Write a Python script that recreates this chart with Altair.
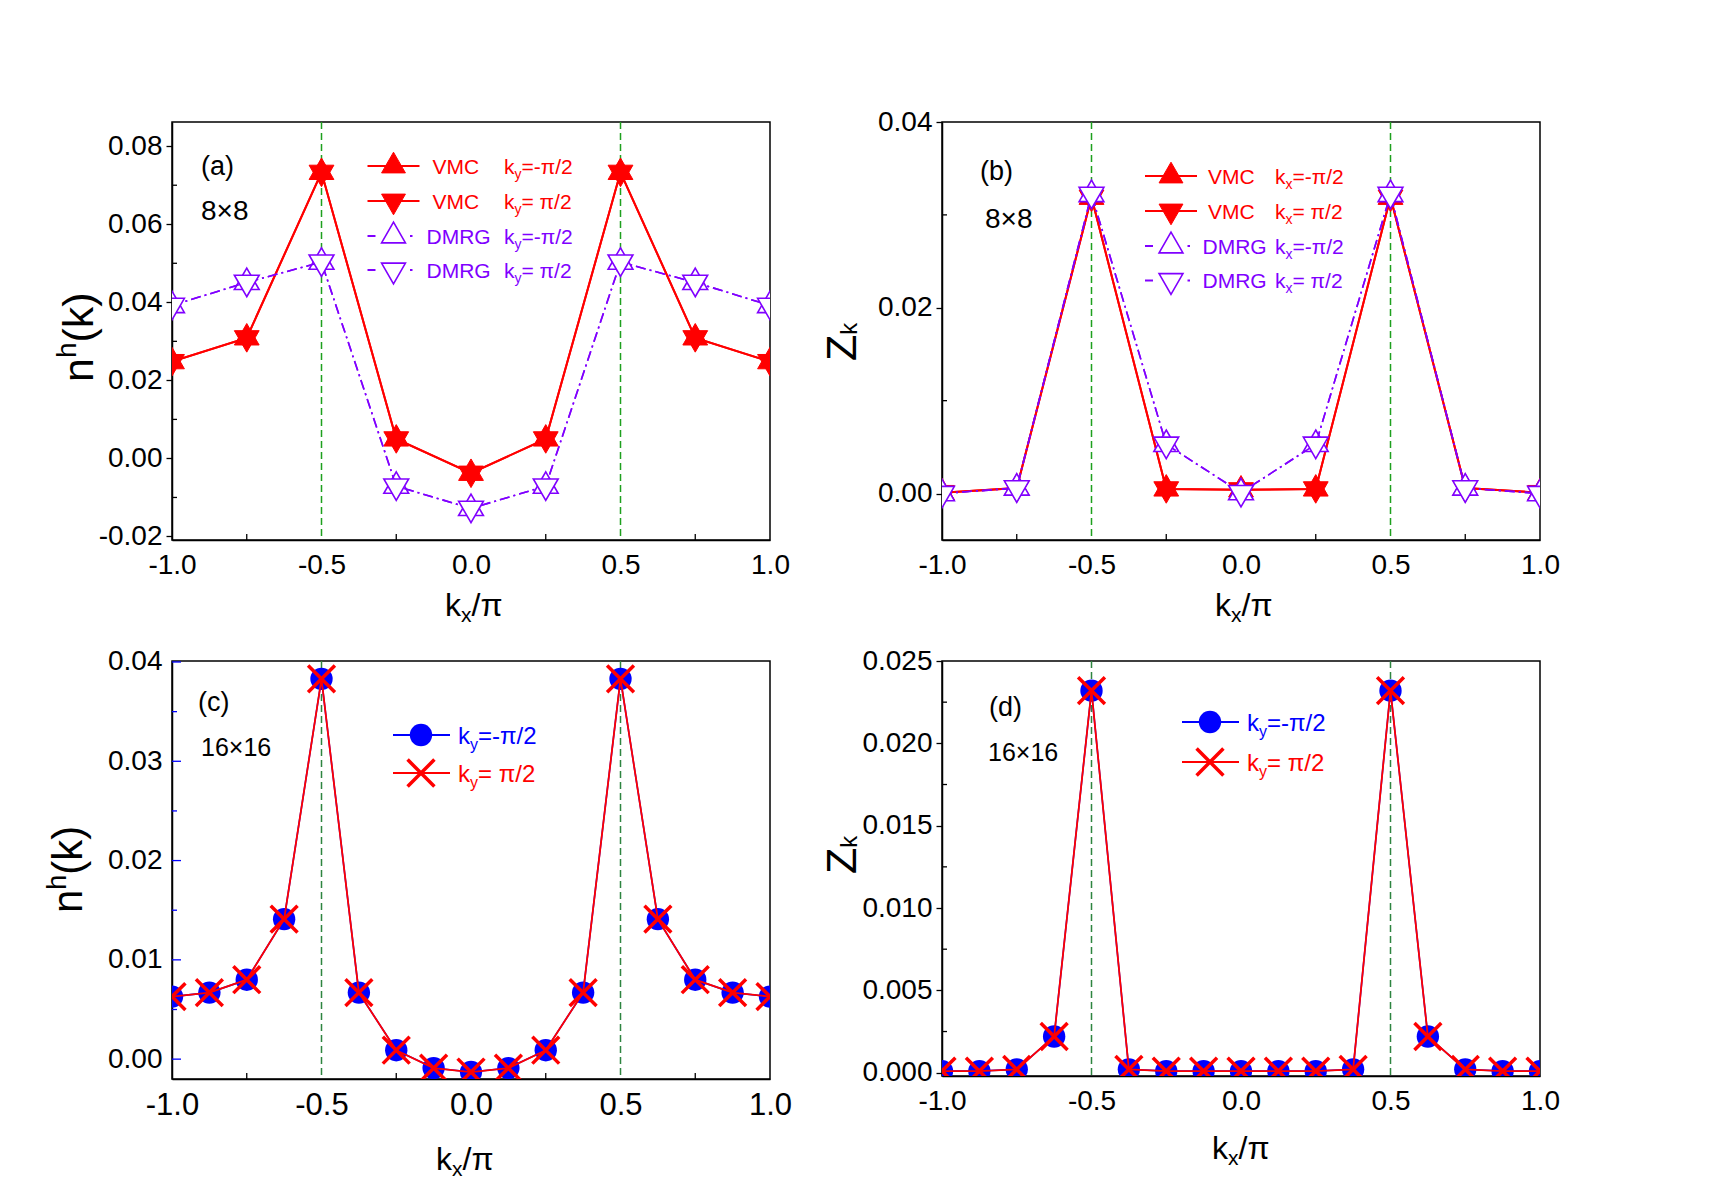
import altair as alt
import pandas as pd

FONT = "Liberation Sans, Arial, Helvetica, sans-serif"
RED = "#ff0000"
VIOLET = "#8000ff"
BLUE = "#0000ff"
BLACK = "#000000"
GREEN_TOP = "#1ea01e"
GREEN_BOT = "#2e8540"

# ---------------- data ----------------
# 8x8 lattice, kx/pi grid
kx8 = [-1.0, -0.75, -0.5, -0.25, 0.0, 0.25, 0.5, 0.75, 1.0]
# hole momentum distribution n^h(k)
nh8_vmc_m = [0.0248, 0.0309, 0.0733, 0.0050, -0.0038, 0.0050, 0.0733, 0.0309, 0.0248]
nh8_vmc_p = [0.0248, 0.0309, 0.0733, 0.0050, -0.0038, 0.0050, 0.0733, 0.0309, 0.0248]
nh8_dmrg_m = [0.0392, 0.0451, 0.0503, -0.0071, -0.0128, -0.0071, 0.0503, 0.0451, 0.0392]
nh8_dmrg_p = [0.0392, 0.0451, 0.0503, -0.0071, -0.0128, -0.0071, 0.0503, 0.0451, 0.0392]
# quasiparticle weight Z_k
zk8_vmc_m = [0.0001, 0.0006, 0.0319, 0.0005, 0.0004, 0.0005, 0.0319, 0.0006, 0.0001]
zk8_vmc_p = [0.0001, 0.0006, 0.0319, 0.0005, 0.0004, 0.0005, 0.0319, 0.0006, 0.0001]
zk8_dmrg_m = [0.0000, 0.0006, 0.0322, 0.0053, 0.0001, 0.0053, 0.0322, 0.0006, 0.0000]
zk8_dmrg_p = [0.0000, 0.0006, 0.0322, 0.0053, 0.0001, 0.0053, 0.0322, 0.0006, 0.0000]

# 16x16 lattice
kx16 = [-1.0, -0.875, -0.75, -0.625, -0.5, -0.375, -0.25, -0.125, 0.0,
        0.125, 0.25, 0.375, 0.5, 0.625, 0.75, 0.875, 1.0]
nh16_m = [0.0063, 0.0067, 0.0080, 0.0141, 0.0383, 0.0067, 0.0009, -0.0009, -0.0013,
          -0.0009, 0.0009, 0.0067, 0.0383, 0.0141, 0.0080, 0.0067, 0.0063]
nh16_p = [0.0063, 0.0067, 0.0080, 0.0141, 0.0383, 0.0067, 0.0009, -0.0009, -0.0013,
          -0.0009, 0.0009, 0.0067, 0.0383, 0.0141, 0.0080, 0.0067, 0.0063]
zk16_m = [0.0001, 0.0001, 0.0002, 0.0022, 0.0232, 0.0002, 0.0001, 0.0001, 0.0001,
          0.0001, 0.0001, 0.0002, 0.0232, 0.0022, 0.0002, 0.0001, 0.0001]
zk16_p = [0.0001, 0.0001, 0.0002, 0.0022, 0.0232, 0.0002, 0.0001, 0.0001, 0.0001,
          0.0001, 0.0001, 0.0002, 0.0232, 0.0022, 0.0002, 0.0001, 0.0001]

# nodal guide positions and axis ticks
guides = [-0.5, 0.5]
x_ticks = [-1.0, -0.5, 0.0, 0.5, 1.0]
x_minor = [-0.75, -0.25, 0.25, 0.75]

# ---------------- helpers ----------------
ADV = {"k": 0.5, "x": 0.5, "y": 0.5, "=": 0.584, "-": 0.333, "π": 0.57, "/": 0.278,
       "2": 0.556, " ": 0.278, "n": 0.556, "h": 0.556, "(": 0.333, ")": 0.333,
       "Z": 0.611}
ONE = pd.DataFrame({"o": [0]})

# triangles centred on their centroid, so an up/down pair forms a six-point star
TRI_UP = "M0,-1L0.866,0.5L-0.866,0.5Z"
TRI_DN = "M0,1L0.866,-0.5L-0.866,-0.5Z"
X_MARK = "M-1,-1L1,1M-1,1L1,-1"


def adv(s, size):
    return sum(ADV.get(c, 0.556) for c in s) * size


def neg_expr(fmt):
    return (f"datum.value < 0 ? '-' + format(-datum.value, '{fmt}') "
            f": format(datum.value, '{fmt}')")


def text_at(t, x, y, size, color=BLACK, angle=0, baseline="alphabetic"):
    return alt.Chart(ONE).mark_text(
        text=t, font=FONT, fontSize=size, color=color, align="left",
        baseline=baseline, angle=angle
    ).encode(x=alt.value(x), y=alt.value(y))


def rich(parts, x, y, color=BLACK, angle=0):
    """Text pieces with sub/superscript shifts; angle 270 runs upward."""
    out = []
    pos = 0.0
    for t, size, shift in parts:
        if angle == 0:
            px, py = x + pos, y + shift
        else:
            px, py = x + shift, y - pos
        out.append(text_at(t, px, py, size, color, angle))
        pos += adv(t, size)
    return out


def seg(x1, x2, y, color, width, dash=None):
    kw = dict(color=color, strokeWidth=width)
    if dash:
        kw["strokeDash"] = dash
    return alt.Chart(ONE).mark_rule(**kw).encode(
        x=alt.value(x1), x2=alt.value(x2), y=alt.value(y))


def sym(x, y, **mk):
    return alt.Chart(ONE).mark_point(opacity=1, **mk).encode(
        x=alt.value(x), y=alt.value(y))


def tri_filled(path, size, c):
    return dict(shape=path, size=size, filled=True, fill=c, stroke=c, strokeWidth=1)


def tri_open(path, size, c):
    return dict(shape=path, size=size, filled=True, fill="white", stroke=c, strokeWidth=1.6)


def dot(size, c):
    return dict(shape="circle", size=size, filled=True, fill=c, stroke=c, strokeWidth=0)


def cross(size, c):
    return dict(shape=X_MARK, size=size, filled=False, stroke=c, strokeWidth=3.5)


def panel(W, H, ydom, yvals, yfmt, xlab_size, ylab_ticks, series, guide_color,
          y_minor, minor_color, minor_len, major_inward, texts):
    xs = alt.Scale(domain=[-1, 1], nice=False, zero=False)
    ys = alt.Scale(domain=ydom, nice=False, zero=False)
    xaxis = alt.Axis(values=x_ticks, labelExpr=neg_expr(".1f"), ticks=False, grid=False,
                     title=None, labelFont=FONT, labelFontSize=xlab_size, labelColor=BLACK,
                     labelPadding=11, domainColor=BLACK, domainWidth=1.5,
                     labelFlush=False, labelOverlap=False)
    yaxis = alt.Axis(values=yvals, labelExpr=neg_expr(yfmt), ticks=ylab_ticks, tickSize=6,
                     tickColor=BLACK, tickWidth=1.3, grid=False, title=None,
                     labelFont=FONT, labelFontSize=28, labelColor=BLACK,
                     labelPadding=4 if ylab_ticks else 10, domainColor=BLACK,
                     domainWidth=1.5, labelFlush=False, labelOverlap=False)
    X = alt.X("x:Q", scale=xs, axis=xaxis)
    Y = alt.Y("y:Q", scale=ys, axis=yaxis)

    layers = []
    # dashed guides at kx = +-pi/2
    layers.append(alt.Chart(pd.DataFrame({"x": guides})).mark_rule(
        color=guide_color, strokeWidth=1.5, strokeDash=[7, 4]).encode(x=X))
    # inward minor ticks
    layers.append(alt.Chart(pd.DataFrame({"x": x_minor})).mark_rule(
        color=BLACK, strokeWidth=1.3).encode(x=X, y=alt.value(H), y2=alt.value(H - 6)))
    layers.append(alt.Chart(pd.DataFrame({"y": y_minor})).mark_rule(
        color=minor_color, strokeWidth=1.3).encode(y=Y, x=alt.value(0), x2=alt.value(minor_len)))
    if major_inward:
        layers.append(alt.Chart(pd.DataFrame({"y": yvals})).mark_rule(
            color=minor_color, strokeWidth=1.3).encode(y=Y, x=alt.value(0), x2=alt.value(9)))
    # data series
    for xv, yv, lcolor, lwidth, dash, markers in series:
        df = pd.DataFrame({"x": xv, "y": yv})
        kw = dict(color=lcolor, strokeWidth=lwidth, clip=True)
        if dash:
            kw["strokeDash"] = dash
        layers.append(alt.Chart(df).mark_line(**kw).encode(x=X, y=Y))
        for mk in markers:
            layers.append(alt.Chart(df).mark_point(clip=True, opacity=1, **mk).encode(x=X, y=Y))
    layers.extend(texts)
    return alt.layer(*layers).properties(width=W, height=H)


W = 598
H_TOP = 418
DASHDOT = [10, 4, 2, 4]
STAR = 820      # symbol area for the 8x8 star markers
LEG_TRI = 760


def xtitle(H, below, shift=0):
    return rich([("k", 32, 0), ("x", 21, 6), ("/π", 32, 0)], W / 2 - 26 + shift, H + below)


def ztitle(y0):
    return rich([("Z", 43, 0), ("k", 24, 1.5)], -86.5, y0, angle=270)


# ---------------- (a) n^h(k), 8x8 ----------------
ya = 21
leg_a = []
rows_a = [44, 79, 114, 148]
leg_a += [seg(195.5, 247.5, rows_a[0], RED, 2), sym(221.5, rows_a[0], **tri_filled(TRI_UP, LEG_TRI, RED))]
leg_a += [seg(195.5, 247.5, rows_a[1], RED, 2), sym(221.5, rows_a[1], **tri_filled(TRI_DN, LEG_TRI, RED))]
leg_a += [seg(195.5, 203.5, rows_a[2], VIOLET, 2), seg(238, 240.5, rows_a[2], VIOLET, 2),
          sym(221.5, rows_a[2], **tri_open(TRI_UP, LEG_TRI, VIOLET))]
leg_a += [seg(195.5, 203.5, rows_a[3], VIOLET, 2), seg(238, 240.5, rows_a[3], VIOLET, 2),
          sym(221.5, rows_a[3], **tri_open(TRI_DN, LEG_TRI, VIOLET))]
for r, lab, col, tx, eq in [(rows_a[0], "VMC", RED, 260.5, "=-π/2"),
                            (rows_a[1], "VMC", RED, 260.5, "= π/2"),
                            (rows_a[2], "DMRG", VIOLET, 254.5, "=-π/2"),
                            (rows_a[3], "DMRG", VIOLET, 254.5, "= π/2")]:
    b = r + 0.358 * ya
    leg_a.append(text_at(lab, tx, b, ya, col))
    leg_a += rich([("k", ya, 0), ("y", 14, 5), (eq, ya, 0)], 332, b, col)

texts_a = [text_at("(a)", 29, 45, 27, baseline="middle"),
           text_at("8×8", 29, 90, 28, baseline="middle")]
texts_a += rich([("n", 43, 0), ("h", 28, -17), ("(k)", 43, 0)], -79, 260, angle=270)
texts_a += xtitle(H_TOP, 76)
texts_a += leg_a
# layout anchor (invisible) fixing the page origin
texts_a.append(alt.Chart(ONE).mark_rule(strokeOpacity=0, strokeWidth=1).encode(
    x=alt.value(-160), x2=alt.value(-150), y=alt.value(-110)))

series_a = [
    (kx8, nh8_vmc_m, RED, 2, None, [tri_filled(TRI_UP, STAR, RED)]),
    (kx8, nh8_vmc_p, RED, 2, None, [tri_filled(TRI_DN, STAR, RED)]),
    (kx8, nh8_dmrg_m, VIOLET, 1.6, DASHDOT, [tri_open(TRI_UP, STAR, VIOLET)]),
    (kx8, nh8_dmrg_p, VIOLET, 1.6, DASHDOT, [tri_open(TRI_DN, STAR, VIOLET)]),
]
pa = panel(W, H_TOP, [-0.0209, 0.0862], [-0.02, 0.0, 0.02, 0.04, 0.06, 0.08], ".2f", 28,
           True, series_a, GREEN_TOP, [-0.01, 0.01, 0.03, 0.05, 0.07], BLACK, 5, False,
           texts_a)

# ---------------- (b) Z_k, 8x8 ----------------
leg_b = []
rows_b = [54, 89, 124, 158.5]
leg_b += [seg(203, 255, rows_b[0], RED, 2), sym(229, rows_b[0], **tri_filled(TRI_UP, LEG_TRI, RED))]
leg_b += [seg(203, 255, rows_b[1], RED, 2), sym(229, rows_b[1], **tri_filled(TRI_DN, LEG_TRI, RED))]
leg_b += [seg(203, 211, rows_b[2], VIOLET, 2), seg(245.5, 248, rows_b[2], VIOLET, 2),
          sym(229, rows_b[2], **tri_open(TRI_UP, LEG_TRI, VIOLET))]
leg_b += [seg(203, 211, rows_b[3], VIOLET, 2), seg(245.5, 248, rows_b[3], VIOLET, 2),
          sym(229, rows_b[3], **tri_open(TRI_DN, LEG_TRI, VIOLET))]
for r, lab, col, tx, eq in [(rows_b[0], "VMC", RED, 266, "=-π/2"),
                            (rows_b[1], "VMC", RED, 266, "= π/2"),
                            (rows_b[2], "DMRG", VIOLET, 260.5, "=-π/2"),
                            (rows_b[3], "DMRG", VIOLET, 260.5, "= π/2")]:
    b = r + 0.358 * ya
    leg_b.append(text_at(lab, tx, b, ya, col))
    leg_b += rich([("k", ya, 0), ("x", 14, 5), (eq, ya, 0)], 333, b, col)

texts_b = [text_at("(b)", 38, 50, 27, baseline="middle"),
           text_at("8×8", 43, 98, 28, baseline="middle")]
texts_b += ztitle(239)
texts_b += xtitle(H_TOP, 76)
texts_b += leg_b

series_b = [
    (kx8, zk8_vmc_m, RED, 2, None, [tri_filled(TRI_UP, STAR, RED)]),
    (kx8, zk8_vmc_p, RED, 2, None, [tri_filled(TRI_DN, STAR, RED)]),
    (kx8, zk8_dmrg_m, VIOLET, 1.6, DASHDOT, [tri_open(TRI_UP, STAR, VIOLET)]),
    (kx8, zk8_dmrg_p, VIOLET, 1.6, DASHDOT, [tri_open(TRI_DN, STAR, VIOLET)]),
]
pb = panel(W, H_TOP, [-0.005, 0.04], [0.0, 0.02, 0.04], ".2f", 28, True, series_b,
           GREEN_TOP, [0.01, 0.03], BLACK, 5, False, texts_b)

# ---------------- (c) n^h(k), 16x16 ----------------
yc = 24
rows_c = [74, 112]
leg_c = [seg(221, 278, rows_c[0], BLUE, 2), sym(249, rows_c[0], **dot(500, BLUE)),
         seg(221, 278, rows_c[1], RED, 2), sym(249, rows_c[1], **cross(720, RED))]
leg_c += rich([("k", yc, 0), ("y", 16, 6), ("=-π/2", yc, 0)], 286, rows_c[0] + 0.358 * yc, BLUE)
leg_c += rich([("k", yc, 0), ("y", 16, 6), ("= π/2", yc, 0)], 286, rows_c[1] + 0.358 * yc, RED)

texts_c = [text_at("(c)", 26, 42, 27, baseline="middle"),
           text_at("16×16", 29, 87, 25, baseline="middle")]
texts_c += rich([("n", 42, 0), ("h", 27, -16), ("(k)", 42, 0)], -90.5, 252, angle=270)
texts_c += xtitle(H_TOP, 91, -9)
texts_c += leg_c

series_c = [
    (kx16, nh16_m, BLUE, 1.6, None, [dot(500, BLUE)]),
    (kx16, nh16_p, RED, 1.8, None, [cross(720, RED)]),
]
pc = panel(W, H_TOP, [-0.002, 0.0401], [0.0, 0.01, 0.02, 0.03, 0.04], ".2f", 31, False,
           series_c, GREEN_BOT, [0.005, 0.015, 0.025, 0.035], BLUE, 5, True, texts_c)

# ---------------- (d) Z_k, 16x16 ----------------
H_D = 415
rows_d = [61, 101]
leg_d = [seg(240, 297, rows_d[0], BLUE, 2), sym(268, rows_d[0], **dot(500, BLUE)),
         seg(240, 297, rows_d[1], RED, 2), sym(268, rows_d[1], **cross(720, RED))]
leg_d += rich([("k", yc, 0), ("y", 16, 6), ("=-π/2", yc, 0)], 305, rows_d[0] + 0.358 * yc, BLUE)
leg_d += rich([("k", yc, 0), ("y", 16, 6), ("= π/2", yc, 0)], 305, rows_d[1] + 0.358 * yc, RED)

texts_d = [text_at("(d)", 47, 47, 27, baseline="middle"),
           text_at("16×16", 46, 92, 25, baseline="middle")]
texts_d += ztitle(213)
texts_d += xtitle(H_D, 83, -3)
texts_d += leg_d

series_d = [
    (kx16, zk16_m, BLUE, 1.6, None, [dot(500, BLUE)]),
    (kx16, zk16_p, RED, 1.8, None, [cross(720, RED)]),
]
pd_ = panel(W, H_D, [-0.0002, 0.025], [0.0, 0.005, 0.01, 0.015, 0.02, 0.025], ".3f", 28,
            True, series_d, GREEN_BOT, [0.0025, 0.0075, 0.0125, 0.0175, 0.0225], BLACK, 5,
            False, texts_d)

chart = alt.concat(
    pa, pb, pc, pd_, columns=2, bounds="flush",
    spacing={"row": 121, "column": 172},
).properties(
    padding={"left": 11, "top": 11, "right": 10, "bottom": 10},
    background="white",
).configure_view(stroke=BLACK, strokeWidth=1.5)

chart.save("out.html", embed_options={"renderer": "svg", "actions": False})
